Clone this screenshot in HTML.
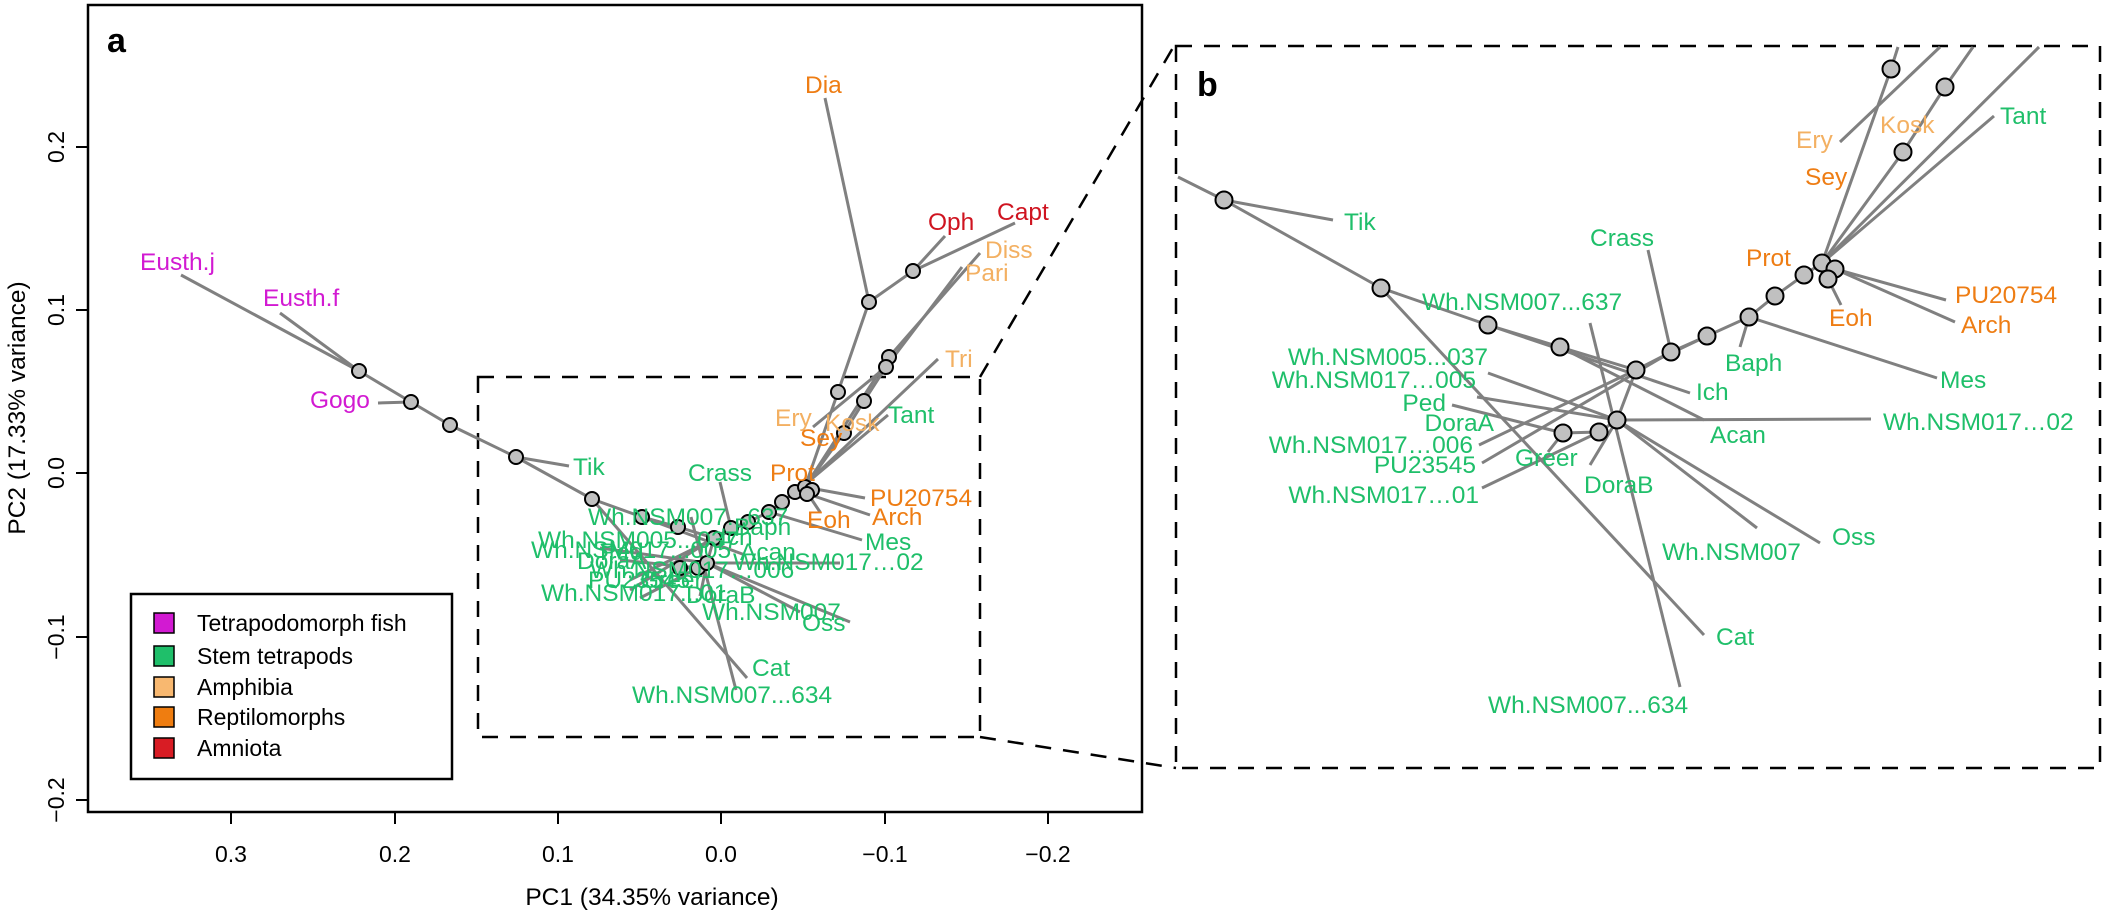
<!DOCTYPE html>
<html><head><meta charset="utf-8"><style>
html,body{margin:0;padding:0;background:#fff;}
svg{display:block;}
text{font-family:"Liberation Sans",Arial,sans-serif;font-size:24.5px;}
.lg text,.tk text{font-size:23px;}
.g{fill:#1fbf6a}.m{fill:#d21ad2}.l{fill:#f3b062}.o{fill:#ee7d14}.r{fill:#cf1420}
.ln line,.ln polyline{stroke:#808080;stroke-width:3;fill:none}
.nd circle{fill:#c0c0c0;stroke:#000;stroke-width:2}
</style></head><body>
<svg width="2106" height="912" viewBox="0 0 2106 912" xmlns="http://www.w3.org/2000/svg">
<rect width="2106" height="912" fill="#fff"/>
<rect x="88" y="5" width="1054" height="807" fill="none" stroke="#000" stroke-width="2.5"/>
<g stroke="#000" stroke-width="2">
<line x1="231" y1="812" x2="231" y2="824"/><line x1="395" y1="812" x2="395" y2="824"/><line x1="558" y1="812" x2="558" y2="824"/><line x1="721" y1="812" x2="721" y2="824"/><line x1="885" y1="812" x2="885" y2="824"/><line x1="1048" y1="812" x2="1048" y2="824"/>
<line x1="76" y1="147" x2="88" y2="147"/><line x1="76" y1="310" x2="88" y2="310"/><line x1="76" y1="473" x2="88" y2="473"/><line x1="76" y1="637" x2="88" y2="637"/><line x1="76" y1="800" x2="88" y2="800"/>
</g>
<g text-anchor="middle" fill="#000" class="tk">
<text x="231" y="862">0.3</text><text x="395" y="862">0.2</text><text x="558" y="862">0.1</text><text x="721" y="862">0.0</text><text x="885" y="862">−0.1</text><text x="1048" y="862">−0.2</text>
<text transform="translate(64,147) rotate(-90)">0.2</text>
<text transform="translate(64,310) rotate(-90)">0.1</text>
<text transform="translate(64,473) rotate(-90)">0.0</text>
<text transform="translate(64,637) rotate(-90)">−0.1</text>
<text transform="translate(64,800) rotate(-90)">−0.2</text>
</g>
<g text-anchor="middle" fill="#000">
<text x="652" y="905">PC1 (34.35% variance)</text>
<text transform="translate(25,408) rotate(-90)">PC2 (17.33% variance)</text>
</g>
<text x="107" y="52" style="font-weight:bold;font-size:34px">a</text>

<g fill="none" stroke="#000" stroke-width="2.5" stroke-dasharray="16,12">
<rect x="478" y="377" width="502" height="360"/>
<rect x="1176" y="46" width="924" height="722"/>
<line x1="980" y1="377" x2="1174" y2="46"/>
<line x1="980" y1="737" x2="1176" y2="768"/>
</g>

<g class="ln">
<polyline points="359,371 411,402 450,425 516,457 592,499 642,517 678,527 714,538 731,528 748,522 769,512 782,502 795,492 805,487"/>
<line x1="181" y1="275" x2="359" y2="371"/><line x1="280" y1="313" x2="359" y2="371"/>
<line x1="378" y1="403" x2="411" y2="402"/><line x1="569" y1="466" x2="516" y2="457"/>
<polyline points="805,487 838,392 869,302 913,271"/>
<line x1="825" y1="98" x2="869" y2="302"/><line x1="945" y1="236" x2="913" y2="271"/><line x1="1015" y1="223" x2="913" y2="271"/>
<polyline points="980,253 889,357 805,487"/><polyline points="962,267 886,367 864,401 844,433 805,487"/>
<line x1="938" y1="359" x2="808" y2="482"/><line x1="888" y1="415" x2="808" y2="482"/>
<line x1="813" y1="427" x2="886" y2="367"/>
<line x1="865" y1="498" x2="810" y2="488"/><line x1="870" y1="515" x2="808" y2="494"/><line x1="820" y1="512" x2="808" y2="494"/>
<line x1="862" y1="540" x2="769" y2="512"/><line x1="720" y1="482" x2="731" y2="528"/>
<polyline points="714,538 707,563 698,568 680,568"/>
<line x1="592" y1="499" x2="747" y2="678"/><line x1="691" y1="517" x2="736" y2="690"/>
<line x1="707" y1="563" x2="800" y2="612"/><line x1="707" y1="563" x2="850" y2="622"/>
<line x1="707" y1="563" x2="840" y2="563"/><line x1="642" y1="517" x2="745" y2="555"/>
<line x1="600" y1="548" x2="707" y2="563"/><line x1="620" y1="560" x2="698" y2="568"/>
<line x1="630" y1="580" x2="748" y2="522"/><line x1="630" y1="590" x2="731" y2="528"/><line x1="640" y1="598" x2="698" y2="568"/>
<line x1="700" y1="596" x2="707" y2="563"/>
</g>
<g class="nd">
<circle cx="359" cy="371" r="7"/><circle cx="411" cy="402" r="7"/><circle cx="450" cy="425" r="7"/><circle cx="516" cy="457" r="7"/><circle cx="592" cy="499" r="7"/>
<circle cx="642" cy="517" r="7"/><circle cx="678" cy="527" r="7"/><circle cx="714" cy="538" r="7"/><circle cx="731" cy="528" r="7"/><circle cx="748" cy="522" r="7"/><circle cx="769" cy="512" r="7"/><circle cx="782" cy="502" r="7"/><circle cx="795" cy="492" r="7"/><circle cx="805" cy="487" r="7"/><circle cx="812" cy="490" r="7"/><circle cx="807" cy="494" r="7"/>
<circle cx="680" cy="568" r="7"/><circle cx="698" cy="568" r="7"/><circle cx="707" cy="563" r="7"/>
<circle cx="869" cy="302" r="7"/><circle cx="913" cy="271" r="7"/><circle cx="889" cy="357" r="7"/><circle cx="886" cy="367" r="7"/><circle cx="838" cy="392" r="7"/><circle cx="864" cy="401" r="7"/><circle cx="844" cy="433" r="7"/>
</g>
<text class="m" x="140" y="270">Eusth.j</text><text class="m" x="263" y="306">Eusth.f</text><text class="m" x="310" y="408">Gogo</text>
<text class="g" x="573" y="475">Tik</text><text class="g" x="688" y="481">Crass</text>
<text class="o" x="805" y="93">Dia</text><text class="r" x="928" y="230">Oph</text><text class="r" x="997" y="220">Capt</text>
<text class="l" x="985" y="258">Diss</text><text class="l" x="965" y="281">Pari</text><text class="l" x="945" y="367">Tri</text>
<text class="l" x="775" y="426">Ery</text><text class="l" x="825" y="431">Kosk</text><text class="o" x="800" y="446">Sey</text><text class="g" x="888" y="423">Tant</text>
<text class="o" x="770" y="481">Prot</text><text class="o" x="870" y="506">PU20754</text><text class="o" x="872" y="525">Arch</text><text class="o" x="807" y="528">Eoh</text>
<text class="g" x="865" y="550">Mes</text><text class="g" x="733" y="570">Wh.NSM017…02</text>
<text class="g" x="588" y="525">Wh.NSM007...637</text><text class="g" x="734" y="535">Baph</text>
<text class="g" x="538" y="548">Wh.NSM005...037</text><text class="g" x="531" y="558">Wh.NSM017...005</text>
<text class="g" x="720" y="545">Ich</text><text class="g" x="740" y="560">Acan</text>
<text class="g" x="600" y="560">Ped</text><text class="g" x="577" y="569">DoraA</text><text class="g" x="590" y="578">Wh.NSM017…006</text>
<text class="g" x="588" y="588">PU23545</text><text class="g" x="640" y="588">Greer</text>
<text class="g" x="541" y="601">Wh.NSM017...01</text><text class="g" x="686" y="603">DoraB</text>
<text class="g" x="702" y="620">Wh.NSM007</text><text class="g" x="802" y="631">Oss</text>
<text class="g" x="752" y="676">Cat</text><text class="g" x="632" y="703">Wh.NSM007...634</text>

<rect x="131" y="594" width="321" height="185" fill="#fff" stroke="#000" stroke-width="2.5"/>
<g stroke="#000" stroke-width="1.5">
<rect x="154" y="613" width="20" height="20" fill="#d21ad2"/>
<rect x="154" y="646" width="20" height="20" fill="#1fbf6a"/>
<rect x="154" y="677" width="20" height="20" fill="#f8b870"/>
<rect x="154" y="707" width="20" height="20" fill="#ef7d10"/>
<rect x="154" y="738" width="20" height="20" fill="#d81c24"/>
</g>
<g fill="#000" class="lg">
<text x="197" y="631">Tetrapodomorph fish</text>
<text x="197" y="664">Stem tetrapods</text>
<text x="197" y="695">Amphibia</text>
<text x="197" y="725">Reptilomorphs</text>
<text x="197" y="756">Amniota</text>
</g>

<text x="1197" y="96" style="font-weight:bold;font-size:34px">b</text>
<g class="ln">
<line x1="1178" y1="177" x2="1224" y2="200"/><line x1="1224" y1="200" x2="1333" y2="220"/>
<line x1="1224" y1="200" x2="1381" y2="288"/><line x1="1381" y1="288" x2="1704" y2="635"/>
<polyline points="1381,288 1488,325 1560,347 1636,370 1671,352 1707,336 1749,317 1775,296 1804,275 1822,263"/>
<line x1="1648" y1="250" x2="1671" y2="352"/><line x1="1740" y1="347" x2="1749" y2="317"/>
<line x1="1749" y1="317" x2="1937" y2="378"/><line x1="1488" y1="325" x2="1690" y2="393"/>
<line x1="1560" y1="347" x2="1704" y2="420"/>
<polyline points="1636,370 1617,420 1599,432 1563,433"/>
<line x1="1617" y1="420" x2="1871" y2="419"/><line x1="1617" y1="420" x2="1820" y2="543"/>
<line x1="1617" y1="420" x2="1757" y2="528"/><line x1="1617" y1="420" x2="1590" y2="465"/>
<line x1="1563" y1="433" x2="1548" y2="452"/>
<line x1="1488" y1="373" x2="1617" y2="420"/><line x1="1477" y1="397" x2="1617" y2="420"/>
<line x1="1452" y1="405" x2="1563" y2="433"/><line x1="1479" y1="445" x2="1707" y2="336"/>
<line x1="1482" y1="463" x2="1671" y2="352"/><line x1="1482" y1="488" x2="1599" y2="432"/>
<line x1="1590" y1="323" x2="1680" y2="687"/>
<line x1="1835" y1="269" x2="1946" y2="300"/><line x1="1835" y1="269" x2="1955" y2="322"/>
<line x1="1828" y1="279" x2="1841" y2="305"/>
<polyline points="1822,263 1891,69 1898,47"/>
<polyline points="1822,263 1903,152 1945,87 1973,47"/>
<line x1="1840" y1="142" x2="1940" y2="47"/>
<line x1="1822" y1="263" x2="2039" y2="47"/>
<line x1="1822" y1="263" x2="1994" y2="116"/>
</g>
<g class="nd">
<circle cx="1224" cy="200" r="8.5"/><circle cx="1381" cy="288" r="8.5"/><circle cx="1488" cy="325" r="8.5"/><circle cx="1560" cy="347" r="8.5"/><circle cx="1636" cy="370" r="8.5"/>
<circle cx="1671" cy="352" r="8.5"/><circle cx="1707" cy="336" r="8.5"/><circle cx="1749" cy="317" r="8.5"/><circle cx="1775" cy="296" r="8.5"/><circle cx="1804" cy="275" r="8.5"/>
<circle cx="1822" cy="263" r="8.5"/><circle cx="1835" cy="269" r="8.5"/><circle cx="1828" cy="279" r="8.5"/>
<circle cx="1891" cy="69" r="8.5"/><circle cx="1945" cy="87" r="8.5"/><circle cx="1903" cy="152" r="8.5"/>
<circle cx="1617" cy="420" r="8.5"/><circle cx="1599" cy="432" r="8.5"/><circle cx="1563" cy="433" r="8.5"/>
</g>
<text class="g" x="1344" y="230">Tik</text><text class="g" x="1590" y="246">Crass</text><text class="o" x="1746" y="266">Prot</text>
<text class="l" x="1796" y="148">Ery</text><text class="l" x="1880" y="133">Kosk</text><text class="o" x="1805" y="185">Sey</text><text class="g" x="2000" y="124">Tant</text>
<text class="o" x="1955" y="303">PU20754</text><text class="o" x="1961" y="333">Arch</text><text class="o" x="1829" y="326">Eoh</text>
<text class="g" x="1725" y="371">Baph</text><text class="g" x="1940" y="388">Mes</text><text class="g" x="1696" y="400">Ich</text><text class="g" x="1710" y="443">Acan</text>
<text class="g" x="1422" y="310">Wh.NSM007...637</text>
<g text-anchor="end">
<text class="g" x="1488" y="365">Wh.NSM005...037</text>
<text class="g" x="1476" y="388">Wh.NSM017…005</text>
<text class="g" x="1446" y="411">Ped</text>
<text class="g" x="1494" y="431">DoraA</text>
<text class="g" x="1473" y="453">Wh.NSM017…006</text>
<text class="g" x="1476" y="473">PU23545</text>
<text class="g" x="1479" y="503">Wh.NSM017…01</text>
</g>
<text class="g" x="1515" y="466">Greer</text><text class="g" x="1584" y="493">DoraB</text>
<text class="g" x="1883" y="430">Wh.NSM017…02</text>
<text class="g" x="1832" y="545">Oss</text><text class="g" x="1662" y="560">Wh.NSM007</text>
<text class="g" x="1716" y="645">Cat</text><text class="g" x="1488" y="713">Wh.NSM007...634</text>
</svg>
</body></html>
